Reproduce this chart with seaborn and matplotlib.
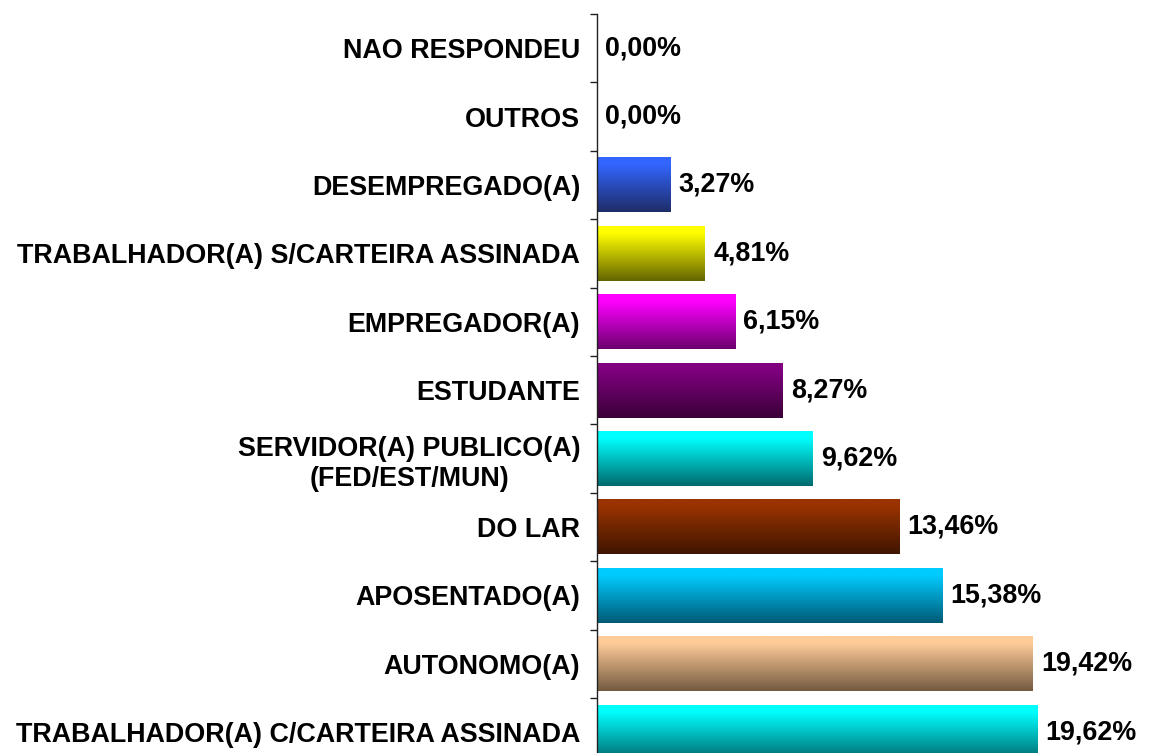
import numpy as np
import pandas as pd
import matplotlib
matplotlib.use("Agg")
import matplotlib.pyplot as plt
import matplotlib.colors as mcolors
import seaborn as sns

categories = [
    "NAO RESPONDEU",
    "OUTROS",
    "DESEMPREGADO(A)",
    "TRABALHADOR(A) S/CARTEIRA ASSINADA",
    "EMPREGADOR(A)",
    "ESTUDANTE",
    "SERVIDOR(A) PUBLICO(A)\n(FED/EST/MUN)",
    "DO LAR",
    "APOSENTADO(A)",
    "AUTONOMO(A)",
    "TRABALHADOR(A) C/CARTEIRA ASSINADA",
]
values = [0.00, 0.00, 3.27, 4.81, 6.15, 8.27, 9.62, 13.46, 15.38, 19.42, 19.62]
top_colors = ["#3366FF", "#3366FF", "#3366FF", "#FFFF00", "#FF00FF", "#800080",
              "#00FFFF", "#993300", "#00CCFF", "#FFCC99", "#00FFFF"]
bottom_colors = ["#1E2C68", "#1E2C68", "#1E2C68", "#646400", "#6C006E", "#3A0038",
                 "#006A6E", "#401500", "#005A76", "#745A40", "#006A6E"]

sns.set_theme(style="white")
plt.rcParams["font.family"] = ["Liberation Sans", "DejaVu Sans"]
plt.rcParams["font.weight"] = "bold"
plt.rcParams["text.color"] = "black"
plt.rcParams["ytick.color"] = "black"

df = pd.DataFrame({"cat": categories, "val": values})

fig = plt.figure(figsize=(11.51, 7.53), dpi=100)
ax = fig.add_axes([597 / 1151, (753 - 766.4) / 753, 545 / 1151, 752.4 / 753])

sns.barplot(data=df, x="val", y="cat", orient="h", ax=ax, width=0.8,
            color="white", edgecolor="none", linewidth=0)

for i, patch in enumerate(ax.patches):
    x0 = patch.get_x()
    w = patch.get_width()
    y0 = patch.get_y()
    h = patch.get_height()
    if w <= 0:
        continue
    c1 = np.array(mcolors.to_rgb(top_colors[i]))
    c2 = np.array(mcolors.to_rgb(bottom_colors[i]))
    t = np.linspace(0, 1, 100)
    s = np.clip((t - 0.12) / 0.88, 0, 1)
    grad = (c1[None, :] * (1 - s[:, None]) + c2[None, :] * s[:, None])[:, None, :]
    ax.imshow(grad, extent=(x0, x0 + w, y0 + h, y0), origin="upper",
              aspect="auto", interpolation="bilinear", zorder=2)

for i, v in enumerate(values):
    ax.annotate(f"{v:.2f}".replace(".", ",") + "%", xy=(v, i), xytext=(6, 0),
                textcoords="offset points", ha="left", va="center",
                fontsize=19.4, fontweight="bold", color="black", zorder=3)

ax.set_xlim(0, 24.28)
ax.set_ylim(10.5, -0.5)
ax.set_xlabel("")
ax.set_ylabel("")
ax.set_xticks([])
for s in ["top", "right", "bottom"]:
    ax.spines[s].set_visible(False)
ax.spines["left"].set_color("#222222")
ax.spines["left"].set_linewidth(1.0)

ax.set_yticks(range(len(categories)))
ax.set_yticklabels(categories, fontsize=19.4, fontweight="bold",
                   multialignment="center", color="black")
ax.set_yticks(np.arange(-0.5, len(categories), 1.0), minor=True)
ax.tick_params(axis="y", which="major", length=0, pad=12, labelcolor="black")
ax.tick_params(axis="y", which="minor", length=5, width=1, color="#222222", left=True)

fig.savefig("out.png", dpi=100, facecolor="white")
